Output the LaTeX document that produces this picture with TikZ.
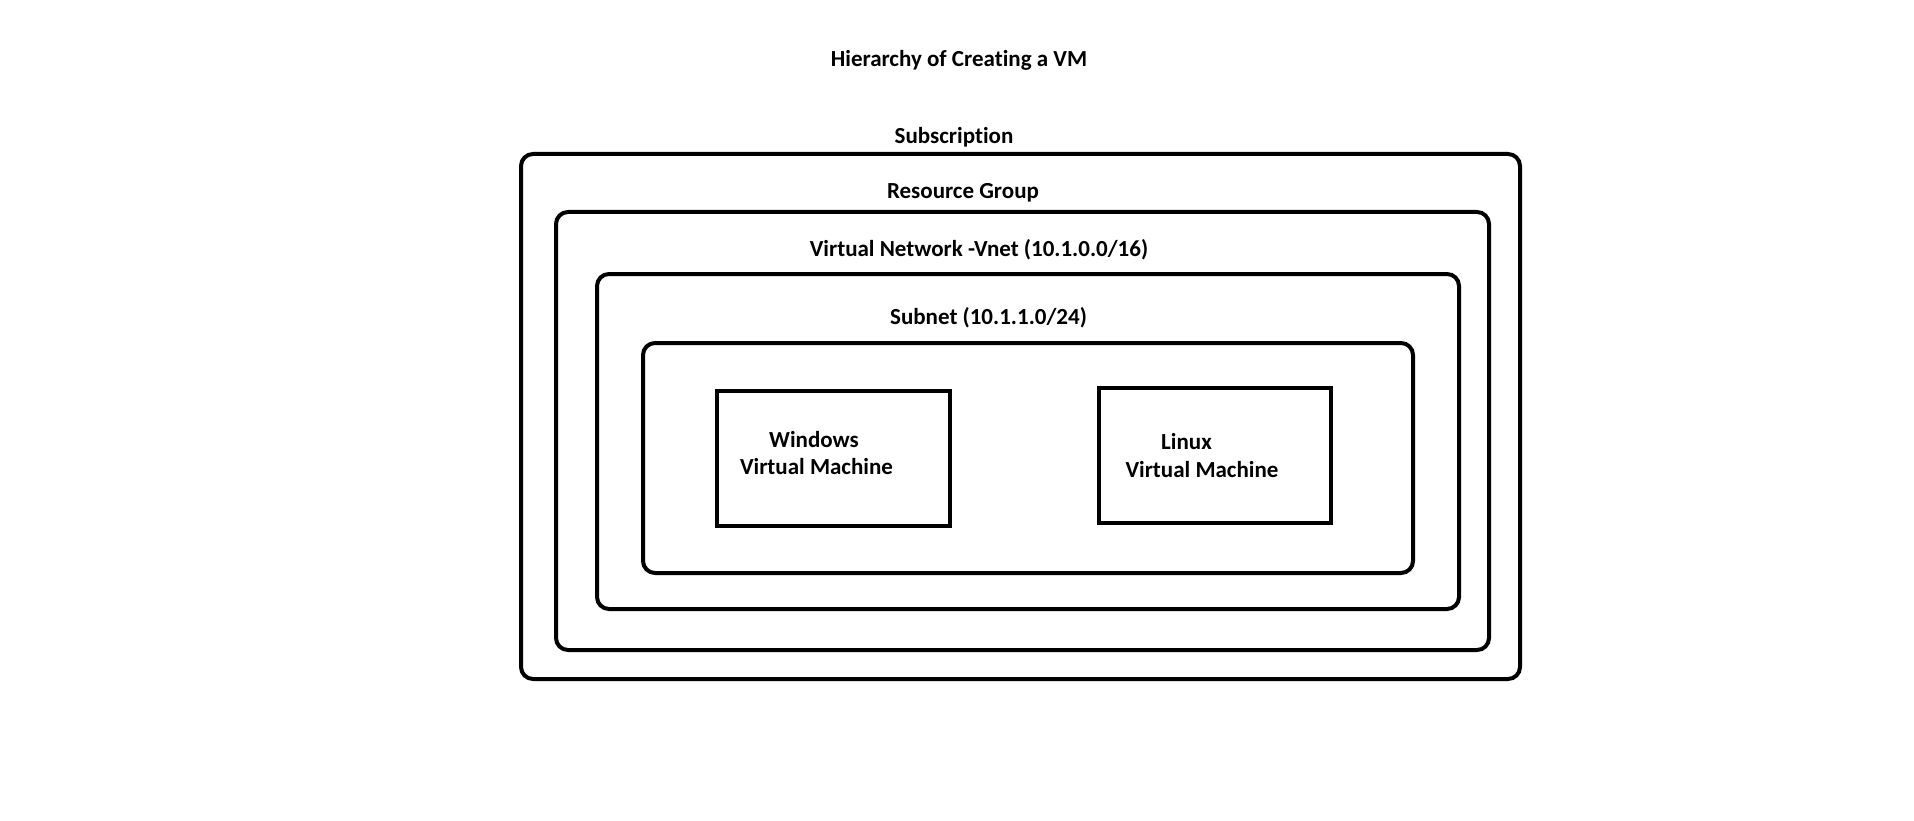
\documentclass[tikz,border=0pt]{standalone}
\usepackage{fontspec}
\setmainfont{Carlito}[Ligatures={NoCommon}]
\begin{document}
\begin{tikzpicture}[x=1pt,y=-1pt,
  frame/.style={draw=black, line width=4pt, rounded corners=12pt, inner sep=0pt, anchor=center},
  vmbox/.style={draw=black, line width=4pt, inner sep=0pt, anchor=center},
  lbl/.style={inner sep=0pt, anchor=base, font=\fontsize{23}{27}\selectfont\bfseries}]
\useasboundingbox[fill=white] (0,0) rectangle (1914,821);
\node[lbl] (title) at (959,67) {Hierarchy of Creating a VM};
\node[frame, minimum width=999pt, minimum height=525pt] (sub) at (1020.5,416.5) {};
\node[lbl] (subl) at (954,144) {Subscription};
\node[frame, minimum width=933pt, minimum height=438pt] (rg) at (1022.5,431) {};
\node[lbl] (rgl) at (963,198.5) {Resource Group};
\node[frame, minimum width=862pt, minimum height=335pt] (vnet) at (1028,441.5) {};
\node[lbl] (vnetl) at (979,256.5) {Virtual Network -Vnet (10.1.0.0/16)};
\node[frame, minimum width=770pt, minimum height=230pt] (subnet) at (1028,458) {};
\node[lbl] (subnetl) at (988.5,324.5) {Subnet (10.1.1.0/24)};
\node[vmbox, minimum width=233pt, minimum height=135pt] (win) at (833.5,458.5) {};
\node[lbl] (winl1) at (814,447) {Windows};
\node[lbl] (winl2) at (816.5,474.5) {Virtual Machine};
\node[vmbox, minimum width=232pt, minimum height=135pt] (lin) at (1215,455.5) {};
\node[lbl] (linl1) at (1186.5,449.5) {Linux};
\node[lbl] (linl2) at (1202,477) {Virtual Machine};
\end{tikzpicture}
\end{document}
